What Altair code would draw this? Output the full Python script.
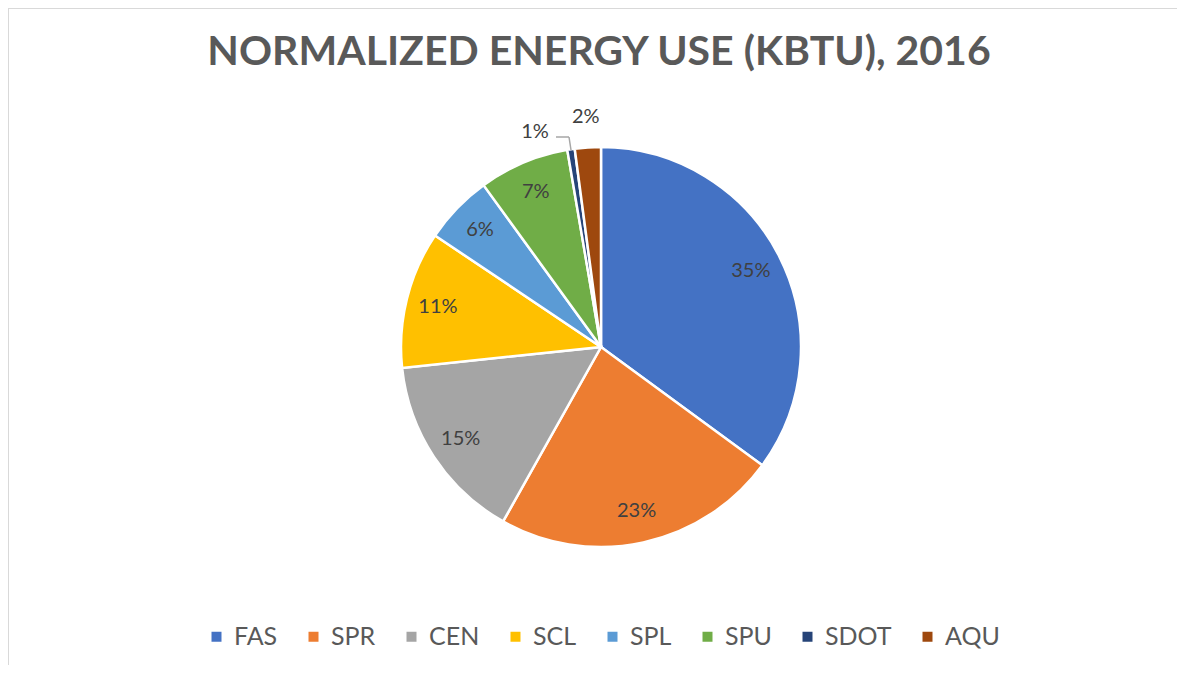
import altair as alt
import pandas as pd

categories = ["FAS", "SPR", "CEN", "SCL", "SPL", "SPU", "SDOT", "AQU"]
values = [35.1, 23.1, 15.2, 11.1, 5.6, 7.3, 0.6, 2.1]
colors = ["#4472C4", "#ED7D31", "#A5A5A5", "#FFC000", "#5B9BD5", "#70AD47", "#264478", "#9E480E"]
title_text = "NORMALIZED ENERGY USE (KBTU), 2016"

total = sum(values)
df = pd.DataFrame({
    "cat": categories,
    "value": values,
    "idx": list(range(len(categories))),
    "label": [f"{round(v / total * 100)}%" for v in values],
})

FONT = "Lato"
CX, CY, R = 593, 339, 200
theta_scale = alt.Scale(domain=[0, total])

pie = alt.Chart(df).mark_arc(outerRadius=R, stroke="white", strokeWidth=2.5).encode(
    theta=alt.Theta("value:Q", stack=True, scale=theta_scale),
    order=alt.Order("idx:Q"),
    x=alt.value(CX),
    y=alt.value(CY),
    color=alt.Color(
        "cat:N",
        scale=alt.Scale(domain=categories, range=colors),
        sort=categories,
        legend=alt.Legend(
            title=None,
            orient="none",
            direction="horizontal",
            legendX=196,
            legendY=616,
            symbolType="square",
            symbolSize=100,
            symbolStrokeWidth=0,
            labelFontSize=25,
            labelFont=FONT,
            labelColor="#595959",
            columnPadding=23,
            labelOffset=5,
        ),
    ),
)

lab_base = alt.Chart(df).transform_window(
    cum="sum(value)", sort=[alt.SortField("idx")], frame=[None, 0]
).transform_calculate(
    mid="datum.cum - datum.value / 2"
).encode(
    theta=alt.Theta("mid:Q", scale=theta_scale),
    x=alt.value(CX),
    y=alt.value(CY),
    text="label:N",
)

inner = lab_base.mark_text(radius=168, fontSize=20, font=FONT, color="#404040").transform_filter(
    alt.FieldOneOfPredicate(field="cat", oneOf=categories[:6])
)
aqu = lab_base.mark_text(radius=231, fontSize=20, font=FONT, color="#404040").transform_filter(
    alt.FieldEqualPredicate(field="cat", equal="AQU")
)
sdot = lab_base.mark_text(radius=226, fontSize=20, font=FONT, color="#404040", dx=-32, dy=8).transform_filter(
    alt.FieldEqualPredicate(field="cat", equal="SDOT")
)

one = df.head(1)
leader1 = alt.Chart(one).mark_rule(color="#A6A6A6", strokeWidth=1.5).encode(
    x=alt.value(548), x2=alt.value(561), y=alt.value(129), y2=alt.value(129)
)
leader2 = alt.Chart(one).mark_rule(color="#A6A6A6", strokeWidth=1.5).encode(
    x=alt.value(561), x2=alt.value(563), y=alt.value(129), y2=alt.value(142)
)
border_top = alt.Chart(one).mark_rule(color="#D9D9D9", strokeWidth=2).encode(
    x=alt.value(0), x2=alt.value(1169), y=alt.value(0), y2=alt.value(0)
)
border_left = alt.Chart(one).mark_rule(color="#D9D9D9", strokeWidth=2).encode(
    x=alt.value(0), x2=alt.value(0), y=alt.value(0), y2=alt.value(657)
)

title = alt.Chart(one).mark_text(
    fontSize=41, font=FONT, fontWeight="bold", color="#595959", baseline="middle", align="center"
).encode(x=alt.value(591), y=alt.value(45), text=alt.value(title_text))

chart = alt.layer(
    pie, inner, aqu, sdot, leader1, leader2, border_top, border_left, title
).properties(
    width=1169, height=657, autosize=alt.AutoSizeParams(type="none"), padding=0
).configure_view(stroke=None).configure(background="white")

chart.save("out.html", embed_options={"renderer": "svg", "actions": False})
